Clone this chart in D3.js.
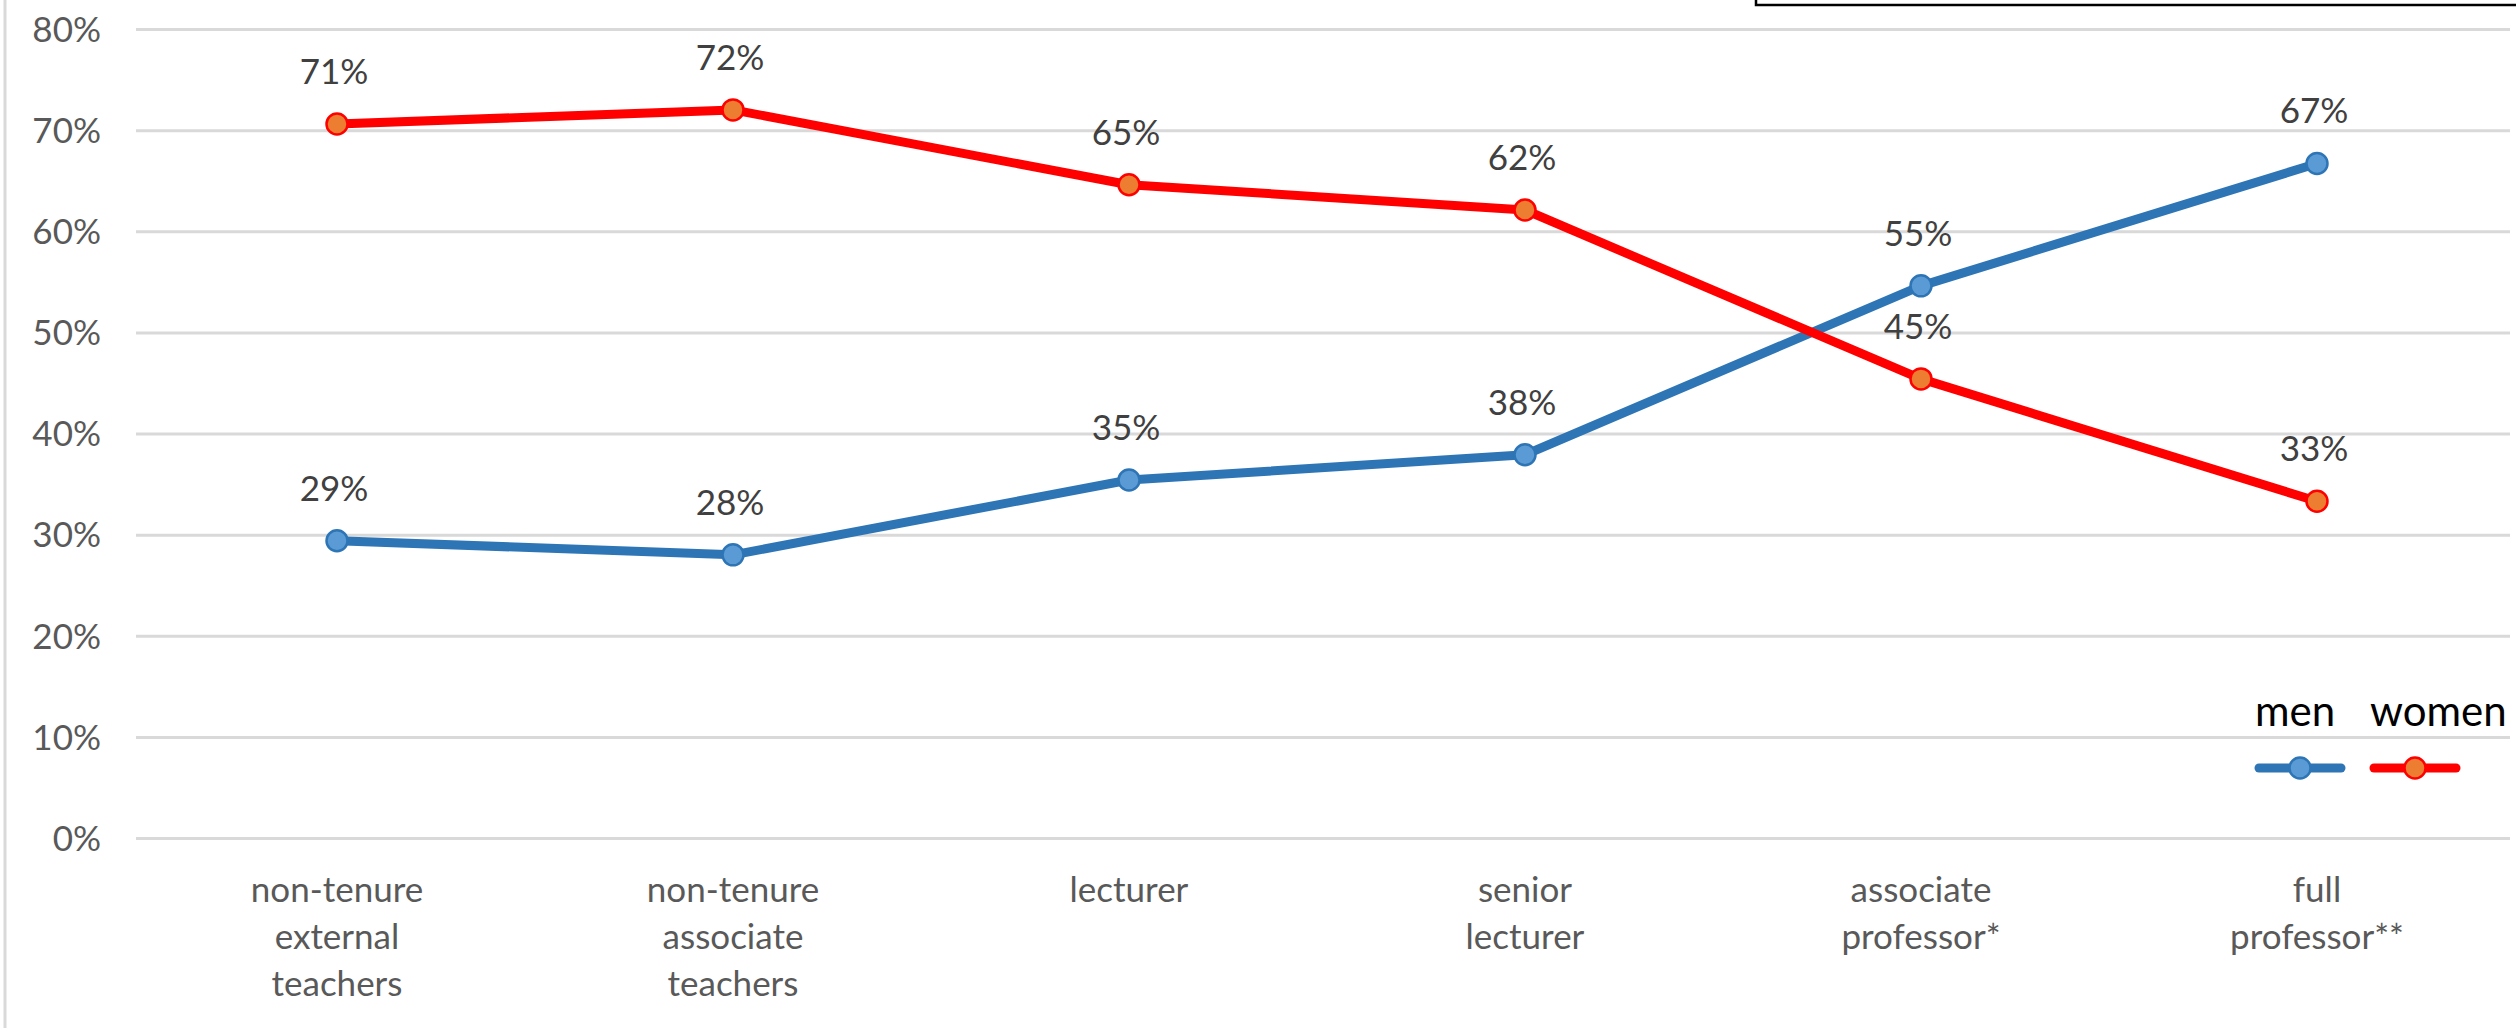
<!DOCTYPE html>
<html>
<head>
<meta charset="utf-8">
<script src="https://cdn.jsdelivr.net/npm/d3@7"></script>
<style>
  html, body { margin: 0; padding: 0; background: #ffffff; }
  svg { display: block; }
  text { font-family: Lato, "Open Sans", sans-serif; }
</style>
</head>
<body>
<svg id="chart" width="2516" height="1028"></svg>
<script>
// ---- data ----
const categories = [
  ["non-tenure", "external", "teachers"],
  ["non-tenure", "associate", "teachers"],
  ["lecturer"],
  ["senior", "lecturer"],
  ["associate", "professor*"],
  ["full", "professor**"]
];
const menValues   = [0.294, 0.280, 0.354, 0.379, 0.546, 0.667];
const womenValues = [0.706, 0.720, 0.646, 0.621, 0.454, 0.333];
const yTicks = [0, 0.1, 0.2, 0.3, 0.4, 0.5, 0.6, 0.7, 0.8];
const seriesNames = ["men", "women"];

// ---- layout ----
const W = 2516, H = 1028;
const svg = d3.select("#chart");
const catKeys = categories.map((c, i) => i);

const x = d3.scaleBand().domain(catKeys).range([139, 2515]).padding(0);
const cx = i => x(i) + x.bandwidth() / 2;
const y = d3.scaleLinear().domain([0, 0.8]).range([838, 29]);

// outer frame: left border + top-right box
svg.append("line").attr("x1", 5).attr("x2", 5).attr("y1", 0).attr("y2", H)
  .attr("stroke", "#d9d9d9").attr("stroke-width", 3);
svg.append("rect").attr("x", 1756).attr("y", -10).attr("width", 800).attr("height", 15)
  .attr("fill", "none").attr("stroke", "#000").attr("stroke-width", 2.5);

// gridlines
const grid = d3.axisLeft(y).tickValues(yTicks).tickSize(-(2510 - 136)).tickFormat("");
const gg = svg.append("g").attr("transform", "translate(136,0)").call(grid);
gg.select(".domain").remove();
gg.selectAll(".tick line").attr("stroke", "#d9d9d9").attr("stroke-width", 3);

// y-axis labels
const ya = d3.axisLeft(y).tickValues(yTicks).tickSize(0).tickPadding(0)
  .tickFormat(d3.format(".0%"));
const yg = svg.append("g").attr("transform", "translate(101,0)").call(ya);
yg.select(".domain").remove();
yg.selectAll(".tick text")
  .attr("fill", "#595959").attr("font-size", 35).attr("dy", "0.35em")
  .attr("font-family", "Lato, sans-serif");

// x category labels
const xl = svg.append("g");
categories.forEach((lines, i) => {
  const t = xl.append("text").attr("x", cx(i)).attr("y", 902)
    .attr("text-anchor", "middle").attr("fill", "#595959").attr("font-size", 35);
  lines.forEach((ln, k) => {
    t.append("tspan").attr("x", cx(i)).attr("dy", k === 0 ? 0 : 47).text(ln);
  });
});

// series
const series = [
  { name: seriesNames[0], values: menValues, line: "#2E75B6", fill: "#5B9BD5", stroke: "#2E75B6" },
  { name: seriesNames[1], values: womenValues, line: "#FF0000", fill: "#ED7D31", stroke: "#FF0000" }
];
const lineGen = d3.line().x((d, i) => cx(i)).y(d => y(d));

series.forEach(s => {
  const g = svg.append("g");
  g.append("path").datum(s.values).attr("d", lineGen)
    .attr("fill", "none").attr("stroke", s.line).attr("stroke-width", 9)
    .attr("stroke-linejoin", "round").attr("stroke-linecap", "round");
  g.selectAll("circle").data(s.values).join("circle")
    .attr("cx", (d, i) => cx(i)).attr("cy", d => y(d)).attr("r", 10.5)
    .attr("fill", s.fill).attr("stroke", s.stroke).attr("stroke-width", 2.5);
});

// data labels
series.forEach(s => {
  svg.append("g").selectAll("text").data(s.values).join("text")
    .attr("x", (d, i) => cx(i) - 3).attr("y", d => y(d) - 40)
    .attr("text-anchor", "middle").attr("fill", "#404040").attr("font-size", 35)
    .text(d => d3.format(".0%")(d));
});

// legend
const legend = svg.append("g");
const legX = [2255, 2370];
series.forEach((s, i) => {
  const lx = legX[i];
  legend.append("text").attr("x", lx).attr("y", 726).attr("fill", "#000")
    .attr("font-size", 42).text(s.name);
  legend.append("line").attr("x1", lx + 4).attr("x2", lx + 86).attr("y1", 768).attr("y2", 768)
    .attr("stroke", s.line).attr("stroke-width", 9).attr("stroke-linecap", "round");
  legend.append("circle").attr("cx", lx + 45).attr("cy", 768).attr("r", 10.5)
    .attr("fill", s.fill).attr("stroke", s.stroke).attr("stroke-width", 2.5);
});
</script>
</body>
</html>
